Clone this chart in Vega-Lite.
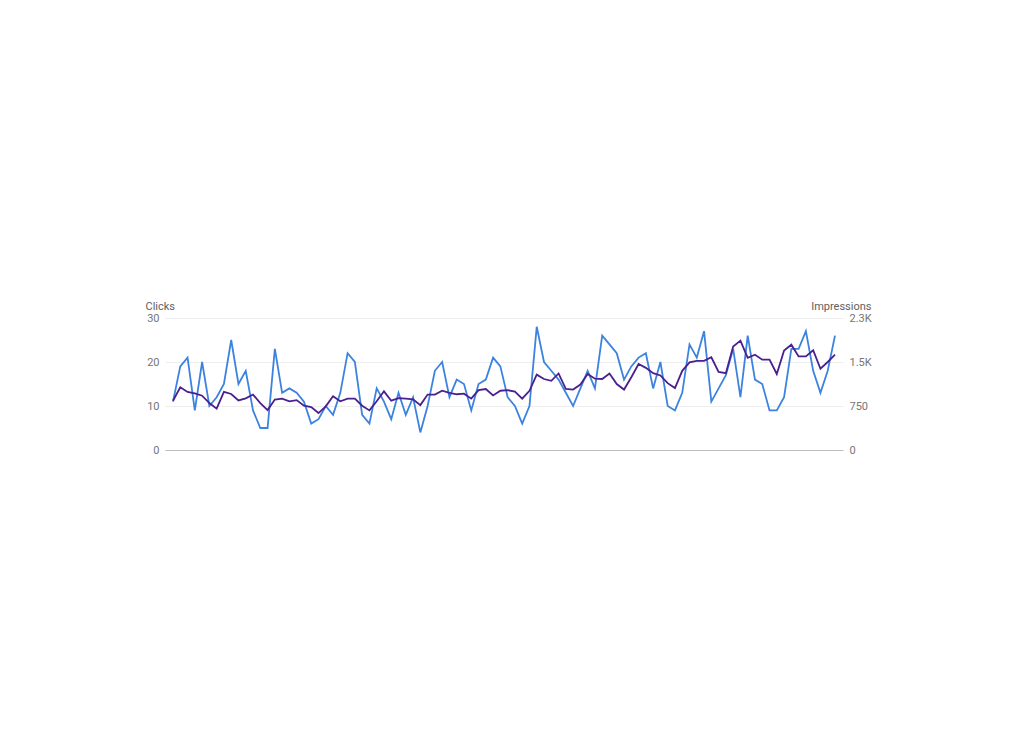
{"$schema": "https://vega.github.io/schema/vega-lite/v6.json",
  "autosize": "none",
  "padding": {"top": 318, "left": 165, "right": 181, "bottom": 300},
  "width": 678,
  "height": 132,
  "background": "white",
  "config": {
    "view": {"stroke": null},
    "font": "Roboto",
    "axis": {"labelFont": "Roboto", "labelFontSize": 11, "labelColor": "#757575", "titleFont": "Roboto", "titleFontSize": 11, "titleFontWeight": "normal", "titleColor": "#616161"}
  },
  "data": {"values": [
    {"d": 0, "clicks": 11, "impressions": 840},
    {"d": 1, "clicks": 19, "impressions": 1070},
    {"d": 2, "clicks": 21, "impressions": 990},
    {"d": 3, "clicks": 9, "impressions": 965},
    {"d": 4, "clicks": 20, "impressions": 925},
    {"d": 5, "clicks": 10, "impressions": 800},
    {"d": 6, "clicks": 12, "impressions": 705},
    {"d": 7, "clicks": 15, "impressions": 990},
    {"d": 8, "clicks": 25, "impressions": 955},
    {"d": 9, "clicks": 15, "impressions": 845},
    {"d": 10, "clicks": 18, "impressions": 880},
    {"d": 11, "clicks": 9, "impressions": 945},
    {"d": 12, "clicks": 5, "impressions": 800},
    {"d": 13, "clicks": 5, "impressions": 680},
    {"d": 14, "clicks": 23, "impressions": 860},
    {"d": 15, "clicks": 13, "impressions": 875},
    {"d": 16, "clicks": 14, "impressions": 830},
    {"d": 17, "clicks": 13, "impressions": 850},
    {"d": 18, "clicks": 11, "impressions": 755},
    {"d": 19, "clicks": 6, "impressions": 730},
    {"d": 20, "clicks": 7, "impressions": 630},
    {"d": 21, "clicks": 10, "impressions": 745},
    {"d": 22, "clicks": 8, "impressions": 915},
    {"d": 23, "clicks": 13, "impressions": 830},
    {"d": 24, "clicks": 22, "impressions": 875},
    {"d": 25, "clicks": 20, "impressions": 875},
    {"d": 26, "clicks": 8, "impressions": 755},
    {"d": 27, "clicks": 6, "impressions": 675},
    {"d": 28, "clicks": 14, "impressions": 830},
    {"d": 29, "clicks": 11, "impressions": 1000},
    {"d": 30, "clicks": 7, "impressions": 840},
    {"d": 31, "clicks": 13, "impressions": 885},
    {"d": 32, "clicks": 8, "impressions": 875},
    {"d": 33, "clicks": 12, "impressions": 865},
    {"d": 34, "clicks": 4, "impressions": 765},
    {"d": 35, "clicks": 10, "impressions": 945},
    {"d": 36, "clicks": 18, "impressions": 945},
    {"d": 37, "clicks": 20, "impressions": 1010},
    {"d": 38, "clicks": 12, "impressions": 975},
    {"d": 39, "clicks": 16, "impressions": 950},
    {"d": 40, "clicks": 15, "impressions": 960},
    {"d": 41, "clicks": 9, "impressions": 875},
    {"d": 42, "clicks": 15, "impressions": 1020},
    {"d": 43, "clicks": 16, "impressions": 1040},
    {"d": 44, "clicks": 21, "impressions": 930},
    {"d": 45, "clicks": 19, "impressions": 1010},
    {"d": 46, "clicks": 12, "impressions": 1020},
    {"d": 47, "clicks": 10, "impressions": 995},
    {"d": 48, "clicks": 6, "impressions": 875},
    {"d": 49, "clicks": 10, "impressions": 1010},
    {"d": 50, "clicks": 28, "impressions": 1285},
    {"d": 51, "clicks": 20, "impressions": 1210},
    {"d": 52, "clicks": 18, "impressions": 1180},
    {"d": 53, "clicks": 16, "impressions": 1305},
    {"d": 54, "clicks": 13, "impressions": 1040},
    {"d": 55, "clicks": 10, "impressions": 1030},
    {"d": 56, "clicks": 14, "impressions": 1115},
    {"d": 57, "clicks": 18, "impressions": 1295},
    {"d": 58, "clicks": 14, "impressions": 1215},
    {"d": 59, "clicks": 26, "impressions": 1210},
    {"d": 60, "clicks": 24, "impressions": 1305},
    {"d": 61, "clicks": 22, "impressions": 1125},
    {"d": 62, "clicks": 16, "impressions": 1030},
    {"d": 63, "clicks": 19, "impressions": 1240},
    {"d": 64, "clicks": 21, "impressions": 1465},
    {"d": 65, "clicks": 22, "impressions": 1400},
    {"d": 66, "clicks": 14, "impressions": 1310},
    {"d": 67, "clicks": 20, "impressions": 1270},
    {"d": 68, "clicks": 10, "impressions": 1140},
    {"d": 69, "clicks": 9, "impressions": 1055},
    {"d": 70, "clicks": 13, "impressions": 1350},
    {"d": 71, "clicks": 24, "impressions": 1495},
    {"d": 72, "clicks": 21, "impressions": 1520},
    {"d": 73, "clicks": 27, "impressions": 1520},
    {"d": 74, "clicks": 11, "impressions": 1580},
    {"d": 75, "clicks": 14, "impressions": 1330},
    {"d": 76, "clicks": 17, "impressions": 1310},
    {"d": 77, "clicks": 23, "impressions": 1765},
    {"d": 78, "clicks": 12, "impressions": 1865},
    {"d": 79, "clicks": 26, "impressions": 1570},
    {"d": 80, "clicks": 16, "impressions": 1625},
    {"d": 81, "clicks": 15, "impressions": 1540},
    {"d": 82, "clicks": 9, "impressions": 1540},
    {"d": 83, "clicks": 9, "impressions": 1295},
    {"d": 84, "clicks": 12, "impressions": 1695},
    {"d": 85, "clicks": 23, "impressions": 1795},
    {"d": 86, "clicks": 23, "impressions": 1595},
    {"d": 87, "clicks": 27, "impressions": 1595},
    {"d": 88, "clicks": 18, "impressions": 1700},
    {"d": 89, "clicks": 13, "impressions": 1385},
    {"d": 90, "clicks": 18, "impressions": 1500},
    {"d": 91, "clicks": 26, "impressions": 1625}
  ]},
  "encoding": {
    "x": {
      "field": "d",
      "type": "quantitative",
      "scale": {"domain": [-1.1, 92.1], "nice": false, "zero": false},
      "axis": {"title": null, "labels": false, "ticks": false, "grid": false, "domainColor": "#bdbdbd", "domainWidth": 1.2}
    }
  },
  "layer": [
    {
      "mark": {"type": "line", "color": "#3c83e0", "strokeWidth": 1.8},
      "encoding": {
        "y": {
          "field": "clicks",
          "type": "quantitative",
          "scale": {"domain": [0, 30], "nice": false},
          "axis": {"orient": "left", "title": "Clicks", "titleAngle": 0, "titleX": -20, "titleY": -12, "titleAlign": "left", "titleBaseline": "middle", "values": [0, 10, 20, 30], "domain": false, "ticks": false, "labelPadding": 6, "gridColor": "#eeeeee"}
        }
      }
    },
    {
      "mark": {"type": "line", "color": "#4a1f8f", "strokeWidth": 1.8},
      "encoding": {
        "y": {
          "field": "impressions",
          "type": "quantitative",
          "scale": {"domain": [0, 2250], "nice": false},
          "axis": {"orient": "right", "title": "Impressions", "titleAngle": 0, "titleX": 28, "titleY": -12, "titleAlign": "right", "titleBaseline": "middle", "values": [0, 750, 1500, 2250], "labelExpr": "datum.value >= 1000 ? format(datum.value / 1000, '.1f') + 'K' : datum.label", "domain": false, "ticks": false, "grid": false, "labelPadding": 6}
        }
      }
    }
  ],
  "resolve": {"scale": {"y": "independent"}}
}
